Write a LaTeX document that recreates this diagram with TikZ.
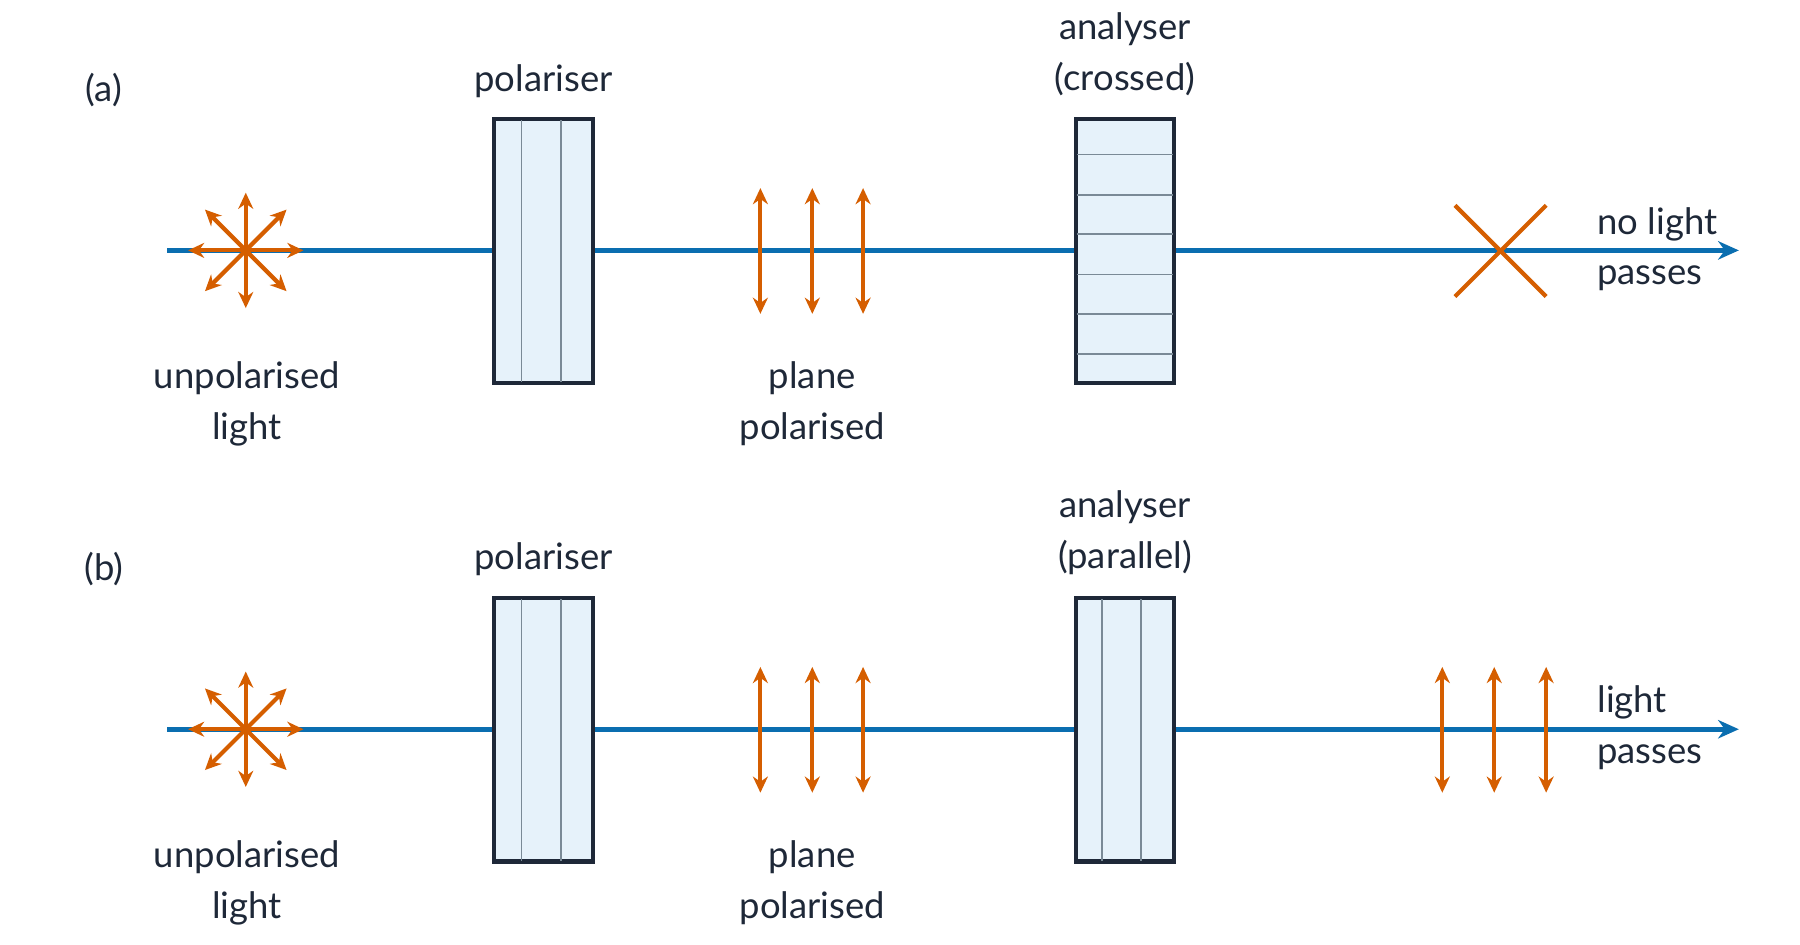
\documentclass[tikz,border=0pt]{standalone}
\usepackage{fontspec}
\setmainfont{Lato}
\usetikzlibrary{arrows.meta}
\definecolor{ink}{HTML}{1E2838}
\definecolor{beam}{HTML}{0A6EB0}
\definecolor{pol}{HTML}{D55E00}
\definecolor{glass}{HTML}{E6F2FA}
\definecolor{grid}{HTML}{7A8A96}
\begin{document}
\begin{tikzpicture}[x=0.5pt,y=-0.5pt,
  lbl/.style={text=ink,font=\fontsize{15.8}{22}\selectfont,inner sep=0pt,align=center},
  beamline/.style={draw=beam,line width=2pt,-{Stealth[length=9pt,width=8pt]}},
  plate/.style={draw=ink,fill=glass,line width=1.2pt},
  gl/.style={draw=grid,line width=0.7pt},
  vib/.style={draw=pol,line width=1.8pt,{Stealth[length=7pt,width=6.5pt]}-{Stealth[length=7pt,width=6.5pt]}},
  cross/.style={draw=pol,line width=1.8pt}]
\useasboundingbox (0,0) rectangle (1560,819);
\foreach \r/\dy/\tag/\an in {a/0/(a)/(crossed),b/415/(b)/(parallel)}{
  \coordinate (s\r) at (145,217+\dy);
  \coordinate (e\r) at (1507,217+\dy);
  \draw[beamline] (s\r) -- (e\r);
  \node[lbl] (t\r) at (90,78+\dy) {\tag};
  % unpolarised
  \coordinate (u\r) at (213,217+\dy);
  \foreach \ang in {0,45,...,315}{
    \draw[draw=pol,line width=1.8pt,-{Stealth[length=7pt,width=6.5pt]}] (u\r) -- ++(\ang:50);}
  \node[lbl] (ul\r) at (214,350+\dy) {unpolarised\\light};
  % polariser
  \node[plate,minimum width=42pt,minimum height=113.5pt,inner sep=0pt] (p\r) at (471,217.5+\dy) {};
  \draw[gl] (452,104+\dy) -- (452,331+\dy);
  \draw[gl] (486,104+\dy) -- (486,331+\dy);
  \draw[plate,fill=none] (p\r.south west) rectangle (p\r.north east);
  \node[lbl] (pl\r) at (471,70+\dy) {polariser};
  % plane polarised
  \foreach \x in {659,704,748}{\draw[vib] (\x,163+\dy) -- (\x,272+\dy);}
  \node[lbl] (pp\r) at (704,350+\dy) {plane\\polarised};
  % analyser
  \node[plate,minimum width=42pt,minimum height=113.5pt,inner sep=0pt] (a\r) at (975,217.5+\dy) {};
  \node[lbl] (al\r) at (975,47+\dy) {analyser\\\an};
}
\foreach \y in {134,169,203,238,272,307}{\draw[gl] (933,\y) -- (1017,\y);}
\draw[plate,fill=none] (aa.south west) rectangle (aa.north east);
\draw[gl] (955,519) -- (955,746);
\draw[gl] (989,519) -- (989,746);
\draw[plate,fill=none] (ab.south west) rectangle (ab.north east);
% outcome a
\coordinate (xc) at (1300,217);
\draw[cross] (1261,178) -- (1340,257);
\draw[cross] (1261,257) -- (1340,178);
\node[lbl,align=left,anchor=west] (na) at (1384,216) {no light\\passes};
% outcome b
\foreach \x in {1250,1295,1340}{\draw[vib] (\x,578) -- (\x,687);}
\node[lbl,align=left,anchor=west] (nb) at (1384,631) {light\\passes};
\end{tikzpicture}
\end{document}
